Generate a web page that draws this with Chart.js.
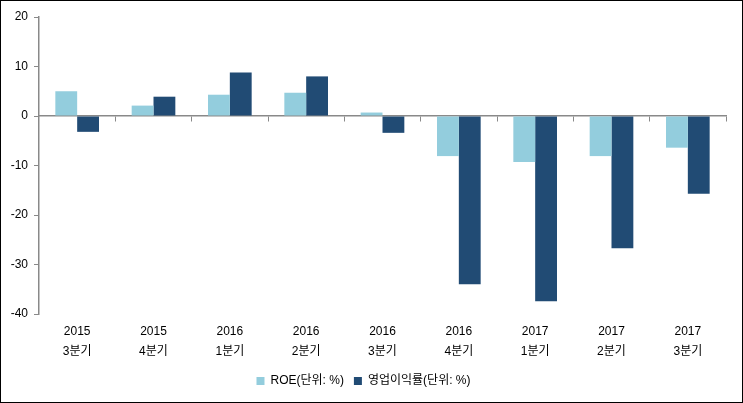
<!DOCTYPE html>
<html>
<head>
<meta charset="utf-8">
<script src="https://cdn.jsdelivr.net/npm/chart.js@4/dist/chart.umd.min.js"></script>
<style>
  html, body { margin: 0; padding: 0; background: #fff; }
  #wrap { width: 743px; height: 403px; box-sizing: border-box; border: 1px solid #000; position: relative; }
  canvas { display: block; }
</style>
</head>
<body>
<div id="wrap"><canvas id="c" width="741" height="401"></canvas></div>
<script>
const years = ['2015', '2015', '2016', '2016', '2016', '2016', '2017', '2017', '2017'];
const quarters = ['3분기', '4분기', '1분기', '2분기', '3분기', '4분기', '1분기', '2분기', '3분기'];
const roe = [5.0, 2.1, 4.3, 4.7, 0.7, -8.1, -9.3, -8.1, -6.4];
const opMargin = [-3.2, 3.9, 8.8, 8.0, -3.4, -34.0, -37.4, -26.7, -15.7];
const seriesNames = ['ROE(단위: %)', '영업이익률(단위: %)'];
const yTicks = { min: -40, max: 20, step: 10 };

const labels = years.map((y, i) => [y, quarters[i]]);
const FONT = "'Liberation Sans', 'Noto Sans CJK KR', sans-serif";
const GRAY = '#898989';

new Chart(document.getElementById('c'), {
  type: 'bar',
  data: {
    labels: labels,
    datasets: [
      { label: seriesNames[0], data: roe, backgroundColor: '#93CDDD', xAxisID: 'x', yAxisID: 'y',
        barPercentage: 1.0, categoryPercentage: 0.572 },
      { label: seriesNames[1], data: opMargin, backgroundColor: '#214B74', xAxisID: 'x', yAxisID: 'y',
        barPercentage: 1.0, categoryPercentage: 0.572 }
    ]
  },
  options: {
    responsive: false,
    animation: false,
    devicePixelRatio: 1,
    layout: { padding: { left: 0, right: 16, top: 16, bottom: 5 } },
    plugins: {
      tooltip: { enabled: false },
      legend: {
        position: 'bottom',
        labels: { boxWidth: 8, boxHeight: 8, color: '#000', font: { family: FONT, size: 12 }, padding: 10 }
      }
    },
    scales: {
      x: {
        type: 'category',
        position: { y: 0 },
        offset: true,
        grid: { offset: true, drawOnChartArea: false, drawTicks: true, tickLength: 5, color: GRAY, lineWidth: 1 },
        border: { color: GRAY, width: 1.5 },
        ticks: { display: false }
      },
      x2: {
        type: 'category',
        position: 'bottom',
        labels: labels,
        offset: true,
        grid: { display: false, drawTicks: false },
        border: { display: false },
        ticks: { color: '#000', font: { family: FONT, size: 12, lineHeight: 1.7 }, padding: 7, maxRotation: 0, autoSkip: false },
        afterFit: s => { s.height = 51; }
      },
      y: {
        position: 'left',
        min: yTicks.min,
        max: yTicks.max,
        ticks: { stepSize: yTicks.step, color: '#000', font: { family: FONT, size: 12 }, padding: 6 },
        grid: { drawOnChartArea: false, drawTicks: true, tickLength: 5, color: GRAY },
        border: { color: GRAY, width: 1.5 },
        afterFit: s => { s.width = 38; }
      }
    }
  }
});
</script>
</body>
</html>
